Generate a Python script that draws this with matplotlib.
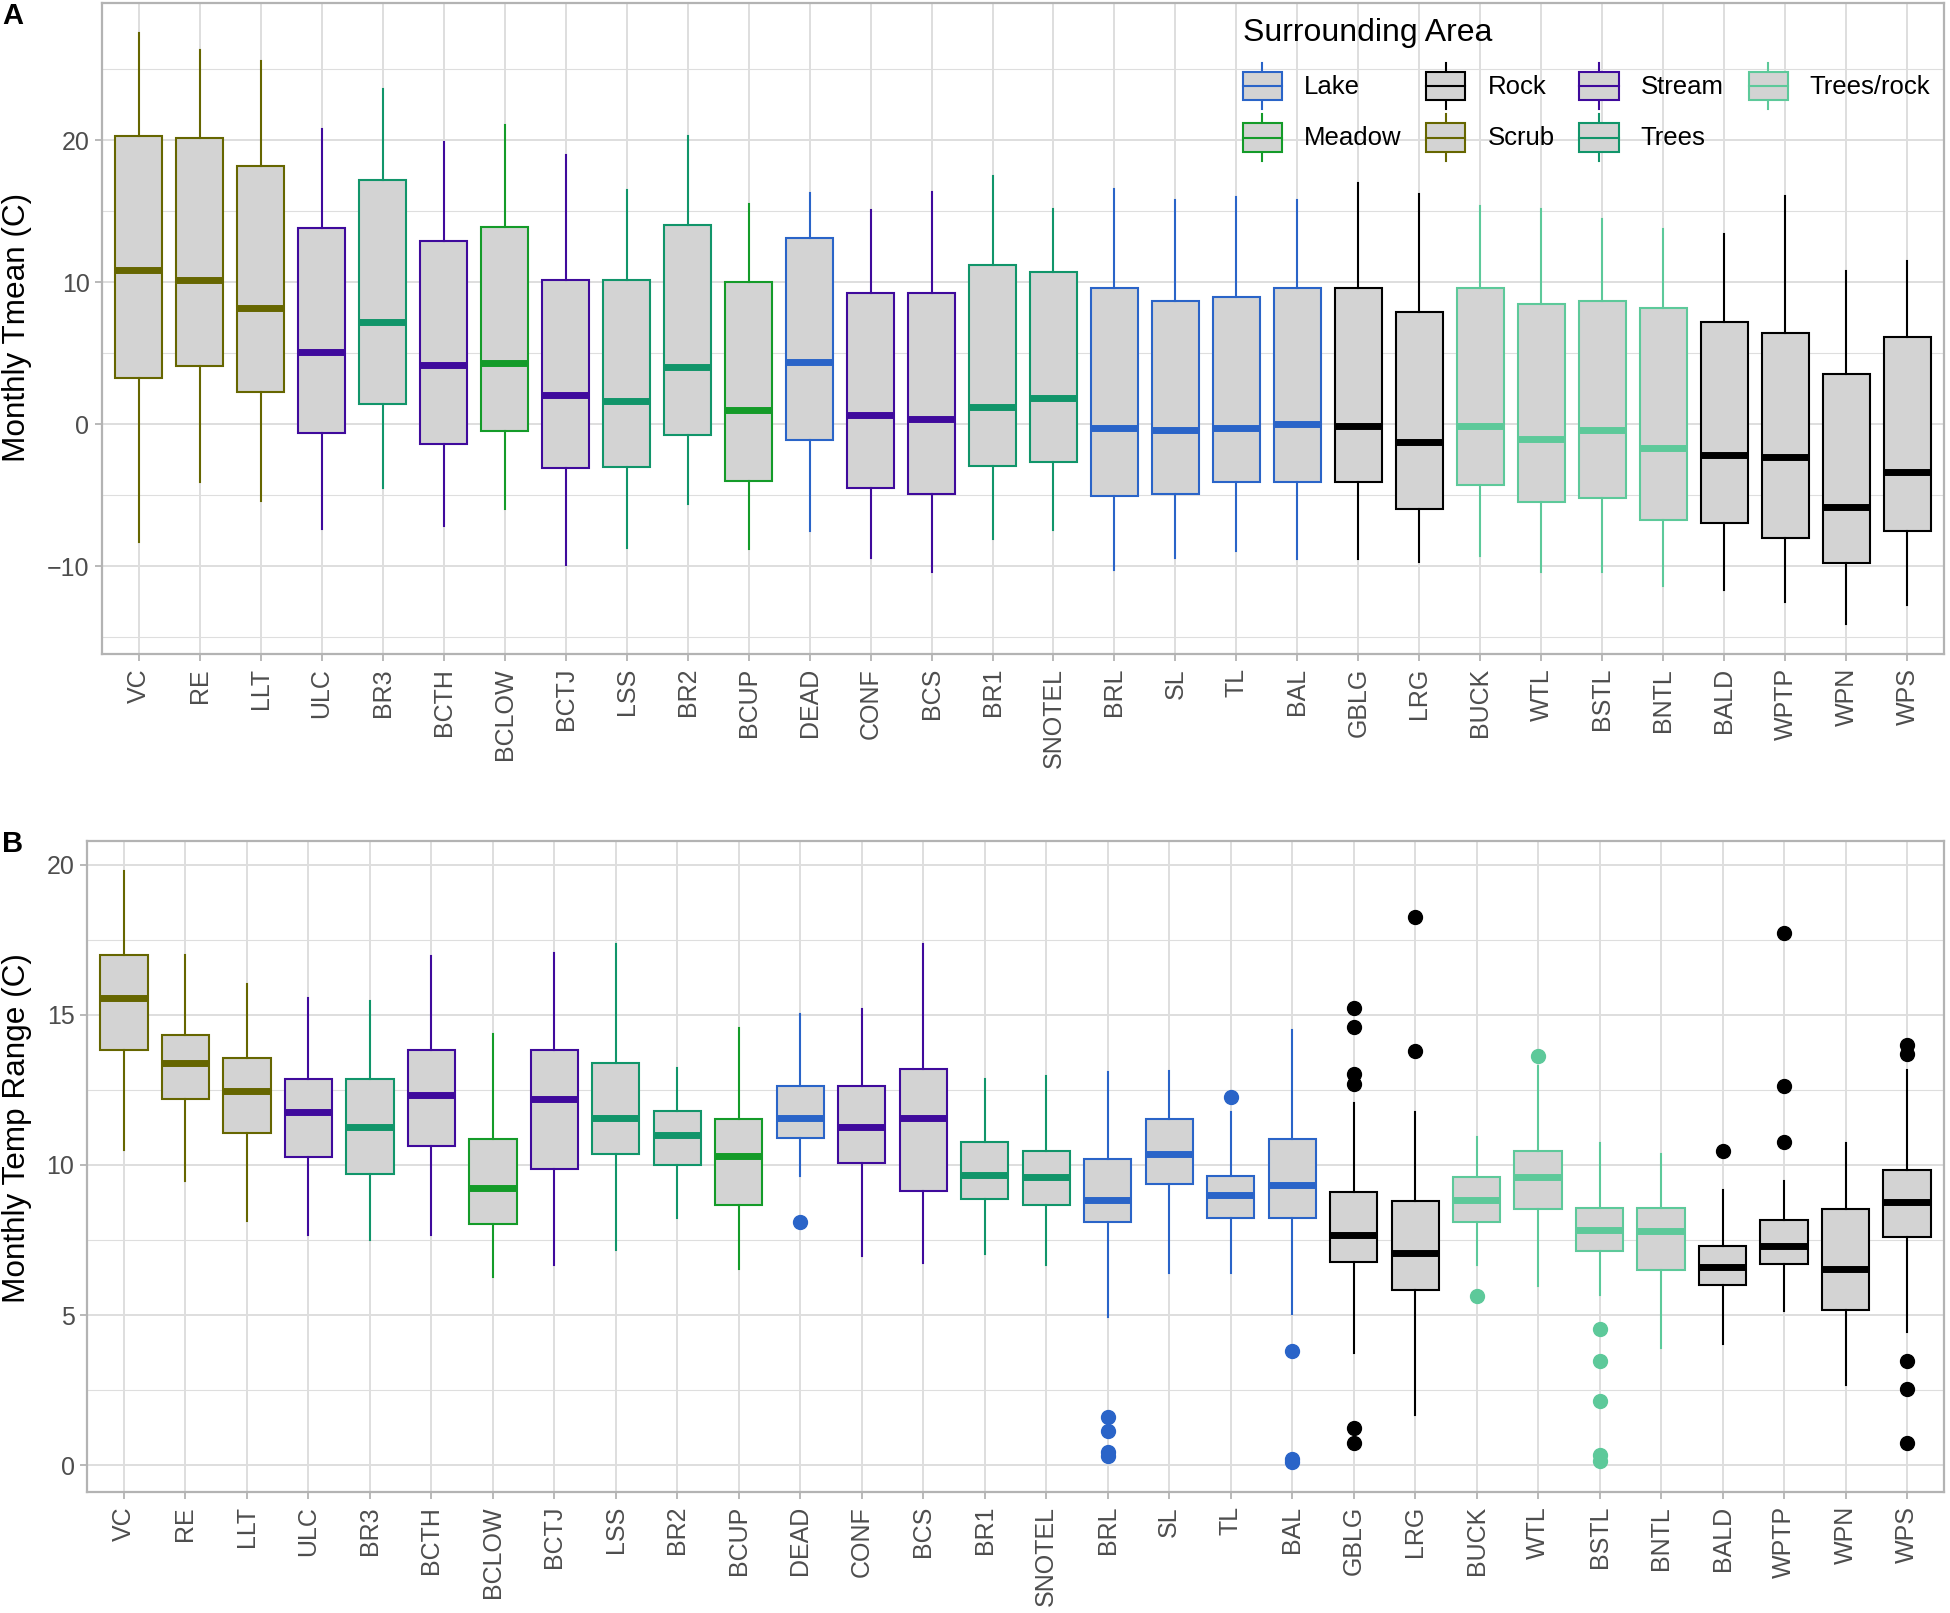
import matplotlib
matplotlib.use("Agg")
import matplotlib.pyplot as plt
from matplotlib.patches import Rectangle, Patch
from matplotlib.lines import Line2D
from matplotlib.legend_handler import HandlerBase
from matplotlib.ticker import MultipleLocator

plt.rcParams['font.family'] = ['Liberation Sans', 'DejaVu Sans']

# ---------------- data ----------------
sites = ['VC', 'RE', 'LLT', 'ULC', 'BR3', 'BCTH', 'BCLOW', 'BCTJ', 'LSS', 'BR2',
         'BCUP', 'DEAD', 'CONF', 'BCS', 'BR1', 'SNOTEL', 'BRL', 'SL', 'TL', 'BAL',
         'GBLG', 'LRG', 'BUCK', 'WTL', 'BSTL', 'BNTL', 'BALD', 'WPTP', 'WPN', 'WPS']

area = ['Scrub', 'Scrub', 'Scrub', 'Stream', 'Trees', 'Stream', 'Meadow', 'Stream', 'Trees', 'Trees',
        'Meadow', 'Lake', 'Stream', 'Stream', 'Trees', 'Trees', 'Lake', 'Lake', 'Lake', 'Lake',
        'Rock', 'Rock', 'Trees/rock', 'Trees/rock', 'Trees/rock', 'Trees/rock', 'Rock', 'Rock', 'Rock', 'Rock']

area_levels = ['Lake', 'Meadow', 'Rock', 'Scrub', 'Stream', 'Trees', 'Trees/rock']
area_colors = ['#2A64C8', '#149B29', '#000000', '#666600', '#3F0A9C', '#11956A', '#5DC99A']

# Panel A: monthly Tmean (C) -- whisker low, Q1, median, Q3, whisker high
tmean_lo  = [-8.3, -4.1, -5.4, -7.4, -4.5, -7.2, -6.0, -9.9, -8.7, -5.6,
             -8.8, -7.5, -9.4, -10.4, -8.06, -7.47, -10.26, -9.4, -8.9, -9.5,
             -9.5, -9.7, -9.3, -10.4, -10.4, -11.4, -11.7, -12.5, -14.1, -12.7]
tmean_q1  = [3.25, 4.1, 2.3, -0.6, 1.45, -1.36, -0.47, -3.1, -3.0, -0.76,
             -4.0, -1.08, -4.47, -4.9, -2.95, -2.67, -5.06, -4.9, -4.1, -4.1,
             -4.1, -5.95, -4.3, -5.46, -5.18, -6.76, -6.93, -8.0, -9.74, -7.5]
tmean_med = [10.9, 10.2, 8.2, 5.1, 7.2, 4.2, 4.35, 2.05, 1.67, 4.07,
             1.03, 4.36, 0.63, 0.37, 1.24, 1.83, -0.26, -0.37, -0.23, 0.05,
             -0.09, -1.26, -0.1, -1.03, -0.37, -1.7, -2.13, -2.27, -5.83, -3.33]
tmean_q3  = [20.3, 20.2, 18.2, 13.8, 17.2, 12.9, 13.9, 10.2, 10.2, 14.05,
             10.0, 13.1, 9.27, 9.27, 11.2, 10.75, 9.58, 8.7, 9.0, 9.58,
             9.58, 7.9, 9.58, 8.5, 8.67, 8.2, 7.2, 6.46, 3.54, 6.18]
tmean_hi  = [27.6, 26.4, 25.6, 20.8, 23.6, 19.9, 21.1, 19.0, 16.5, 20.3,
             15.55, 16.3, 15.1, 16.4, 17.5, 15.2, 16.6, 15.8, 16.0, 15.8,
             17.0, 16.25, 15.4, 15.2, 14.5, 13.75, 13.44, 16.1, 10.8, 11.5]

# Panel B: monthly temperature range (C)
range_lo  = [10.5, 9.48, 8.15, 7.66, 7.52, 7.66, 6.26, 6.66, 7.18, 8.22,
             6.54, 9.64, 6.96, 6.74, 7.03, 6.66, 4.95, 6.39, 6.39, 5.03,
             3.73, 1.68, 6.66, 5.96, 5.67, 3.91, 4.03, 5.13, 2.69, 4.43]
range_q1  = [13.83, 12.2, 11.05, 10.27, 9.7, 10.62, 8.03, 9.86, 10.35, 10.0,
             8.67, 10.9, 10.05, 9.15, 8.87, 8.67, 8.1, 9.37, 8.25, 8.25,
             6.77, 5.84, 8.1, 8.52, 7.14, 6.5, 5.99, 6.71, 5.16, 7.61]
range_med = [15.55, 13.38, 12.46, 11.78, 11.27, 12.33, 9.25, 12.2, 11.57, 11.0,
             10.3, 11.57, 11.27, 11.57, 9.67, 9.6, 8.82, 10.38, 9.01, 9.34,
             7.66, 7.08, 8.85, 9.6, 7.85, 7.79, 6.6, 7.3, 6.54, 8.76]
range_q3  = [17.0, 14.32, 13.55, 12.86, 12.86, 13.83, 10.88, 13.83, 13.41, 11.8,
             11.52, 12.64, 12.64, 13.2, 10.75, 10.47, 10.19, 11.54, 9.64, 10.88,
             9.09, 8.79, 9.59, 10.48, 8.58, 8.58, 7.3, 8.16, 8.52, 9.84]
range_hi  = [19.8, 17.0, 16.03, 15.55, 15.46, 16.95, 14.35, 17.07, 17.35, 13.23,
             14.56, 15.03, 15.18, 17.35, 12.86, 12.95, 13.09, 13.13, 11.76, 14.5,
             12.06, 11.76, 10.93, 13.3, 10.72, 10.38, 9.17, 9.47, 10.72, 13.16]
range_out = {
    'DEAD': [8.1],
    'BRL': [1.6, 1.13, 0.46, 0.3],
    'TL': [12.27],
    'BAL': [3.8, 0.22, 0.1],
    'GBLG': [15.21, 14.59, 13.04, 12.68, 1.23, 0.74],
    'LRG': [18.26, 13.8],
    'BUCK': [5.64],
    'WTL': [13.62],
    'BSTL': [4.55, 3.48, 2.14, 0.34, 0.16],
    'BALD': [10.48],
    'WPTP': [17.71, 12.64, 10.75],
    'WPS': [14.0, 13.71, 3.48, 2.54, 0.74],
}

# ---------------- style ----------------
FILL = '#D3D3D3'
GRID = '#DEDEDE'
BORDER = '#B3B3B3'
TICKTXT = '#4D4D4D'
TICKSIZE = 18
W, H, DPI = 1950, 1613, 100
color_of = dict(zip(area_levels, area_colors))

fig = plt.figure(figsize=(W / DPI, H / DPI), dpi=DPI)


def px_axes(left, top, right, bottom):
    return fig.add_axes([left / W, 1 - bottom / H, (right - left) / W, (bottom - top) / H])


def draw_panel(ax, lo, q1, med, q3, hi, outliers, major, minor):
    allv = []
    for i, s in enumerate(sites):
        c = color_of[area[i]]
        fl = outliers.get(s, [])
        st = dict(med=med[i], q1=q1[i], q3=q3[i], whislo=lo[i], whishi=hi[i], fliers=fl, label=s)
        allv += [lo[i], hi[i]] + list(fl)
        ax.bxp([st], positions=[i + 1], widths=0.77, patch_artist=True, showcaps=False,
               boxprops=dict(facecolor=FILL, edgecolor=c, linewidth=1.5),
               whiskerprops=dict(color=c, linewidth=1.5),
               medianprops=dict(color=c, linewidth=5.0, solid_capstyle='butt'),
               flierprops=dict(marker='o', markerfacecolor=c, markeredgecolor=c, markersize=10),
               manage_ticks=False, zorder=3)
    vmin, vmax = min(allv), max(allv)
    pad = 0.05 * (vmax - vmin)
    ax.set_ylim(vmin - pad, vmax + pad)
    ax.set_xlim(0.4, len(sites) + 0.6)
    ax.set_xticks(range(1, len(sites) + 1))
    ax.set_xticklabels(sites, rotation=90, fontsize=TICKSIZE, color=TICKTXT)
    ax.yaxis.set_major_locator(MultipleLocator(major))
    ax.yaxis.set_minor_locator(MultipleLocator(minor))
    ax.tick_params(axis='y', which='major', labelsize=TICKSIZE, labelcolor=TICKTXT)
    ax.tick_params(which='major', length=5, width=1.3, color=BORDER, pad=4)
    ax.tick_params(axis='x', pad=5)
    ax.tick_params(which='minor', length=0)
    ax.set_axisbelow(True)
    ax.grid(True, which='major', color=GRID, linewidth=1.4)
    ax.grid(True, which='minor', axis='y', color=GRID, linewidth=0.8)
    for sp in ax.spines.values():
        sp.set_color(BORDER)
        sp.set_linewidth(1.6)


axA = px_axes(102, 3, 1944, 654)
draw_panel(axA, tmean_lo, tmean_q1, tmean_med, tmean_q3, tmean_hi, {}, 10, 5)
axB = px_axes(87, 841, 1944, 1492)
draw_panel(axB, range_lo, range_q1, range_med, range_q3, range_hi, range_out, 5, 2.5)

fig.text(17 / W, 1 - 327 / H, 'Monthly Tmean (C)', rotation=90, ha='center', va='center', fontsize=22.7)
fig.text(17 / W, 1 - 1128 / H, 'Monthly Temp Range (C)', rotation=90, ha='center', va='center', fontsize=22.7)
fig.text(2 / W, 1 - 2 / H, 'A', ha='left', va='top', fontsize=21, fontweight='bold')
fig.text(2 / W, 1 - 830 / H, 'B', ha='left', va='top', fontsize=21, fontweight='bold')


# ---------------- legend ----------------
class BoxHandler(HandlerBase):
    def create_artists(self, legend, orig_handle, xdescent, ydescent, width, height, fontsize, trans):
        c = orig_handle.get_edgecolor()
        x0, y0 = -xdescent, -ydescent
        rect = Rectangle((x0, y0 + 0.19 * height), width, 0.62 * height, facecolor=FILL,
                         edgecolor=c, linewidth=1.5, transform=trans)
        med = Line2D([x0, x0 + width], [y0 + 0.5 * height] * 2, color=c, linewidth=1.5, transform=trans)
        w1 = Line2D([x0 + width / 2] * 2, [y0, y0 + 0.19 * height], color=c,
                    linewidth=1.5, transform=trans)
        w2 = Line2D([x0 + width / 2] * 2, [y0 + 0.81 * height, y0 + height], color=c,
                    linewidth=1.5, transform=trans)
        return [w1, w2, rect, med]


handles = [Patch(facecolor=FILL, edgecolor=c) for c in area_colors]
leg = fig.legend(handles, area_levels, handler_map={Patch: BoxHandler()},
                 loc='upper left', bbox_to_anchor=(1222 / W, 1 + 3 / H), ncol=4,
                 frameon=False, fontsize=18.5, title='Surrounding Area', title_fontsize=23,
                 alignment='left', handlelength=1.52, handleheight=2.4, handletextpad=0.86,
                 columnspacing=0.97, labelspacing=0.2, borderpad=0.3)
leg._legend_box.sep = 11

fig.savefig('out.png', dpi=DPI)
